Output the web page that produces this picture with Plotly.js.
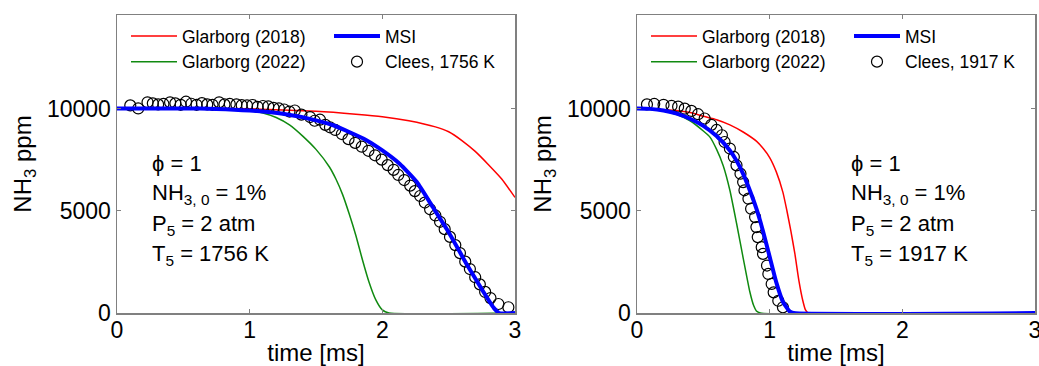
<!DOCTYPE html>
<html>
<head>
<meta charset="utf-8">
<script src="https://cdn.plot.ly/plotly-3.0.1.min.js"></script>
<style>
  html, body { margin: 0; padding: 0; background: #fff; }
  #chart { width: 1039px; height: 366px; }
</style>
</head>
<body>
<div id="chart"></div>
<script>
// ---- NH3 decay at T5 = 1756 K ----
const g18_1756_t = [0, 0.5, 1.0, 1.5, 1.8, 2.0, 2.2, 2.4, 2.5, 2.6, 2.7, 2.8, 2.9, 3.0];
const g18_1756_v = [10000, 9998, 9985, 9860, 9720, 9600, 9400, 9100, 8860, 8430, 7900, 7250, 6550, 5650];

const g22_1756_t = [0, 0.5, 0.9, 1.0, 1.1, 1.2, 1.3, 1.4, 1.5, 1.6, 1.65, 1.7, 1.75, 1.8, 1.85, 1.9, 1.95, 2.0, 2.05, 3.0];
const g22_1756_v = [10000, 9995, 9950, 9900, 9780, 9560, 9200, 8650, 8000, 7150, 6550, 5800, 4850, 3800, 2600, 1500, 650, 150, 0, 0];

const msi_1756_t = [0, 0.5, 0.75, 1.0, 1.25, 1.5, 1.63, 1.75, 1.88, 2.0, 2.13, 2.26, 2.38, 2.5, 2.63, 2.76, 2.84, 2.88, 3.0];
const msi_1756_v = [10000, 10000, 9980, 9900, 9740, 9420, 9180, 8850, 8450, 7950, 7300, 6400, 5180, 3950, 2450, 1050, 250, 0, 0];

const clees_1756_t = [0.10, 0.16, 0.23, 0.27, 0.31, 0.35, 0.40, 0.44, 0.48, 0.52, 0.56, 0.60, 0.64, 0.68, 0.72,
  0.77, 0.81, 0.85, 0.90, 0.94, 0.98, 1.02, 1.06, 1.10, 1.14, 1.18, 1.22, 1.26, 1.30, 1.34,
  1.39, 1.455, 1.49, 1.53, 1.57, 1.605, 1.645, 1.695, 1.745, 1.795, 1.845, 1.895, 1.945, 1.995,
  2.04, 2.085, 2.12, 2.165, 2.21, 2.245, 2.285, 2.32, 2.36, 2.40, 2.435, 2.47, 2.51, 2.55, 2.585,
  2.625, 2.66, 2.70, 2.735, 2.775, 2.815, 2.875, 2.95];
const clees_1756_v = [10150, 10000, 10300, 10250, 10200, 10220, 10300, 10250, 10180, 10330, 10230, 10180, 10260, 10200, 10180,
  10300, 10200, 10220, 10200, 10160, 10150, 10170, 10080, 10120, 10100, 10030, 10000, 9950, 9850, 9900,
  9700, 9580, 9400, 9450, 9200, 9080, 8950, 8750, 8500, 8320, 8130, 7930, 7710, 7500,
  7230, 7000, 6750, 6500, 6230, 5960, 5720, 5400, 5070, 4770, 4460, 4100, 3720, 3320, 2930,
  2510, 2150, 1750, 1400, 1030, 730, 440, 280];

// ---- NH3 decay at T5 = 1917 K ----
const g18_1917_t = [0, 0.3, 0.4, 0.5, 0.6, 0.7, 0.8, 0.9, 0.95, 1.0, 1.05, 1.1, 1.13, 1.16, 1.19, 1.22, 1.25, 1.27, 1.29, 3.0];
const g18_1917_v = [10000, 9900, 9800, 9620, 9450, 9200, 8850, 8400, 8050, 7600, 6900, 5900, 5000, 4000, 2900, 1600, 600, 150, 0, 0];

const g22_1917_t = [0, 0.2, 0.3, 0.4, 0.5, 0.55, 0.6, 0.65, 0.7, 0.75, 0.8, 0.85, 0.88, 0.9, 0.93, 3.0];
const g22_1917_v = [10000, 9880, 9700, 9400, 8900, 8600, 8000, 7200, 6000, 4400, 2700, 1050, 350, 100, 0, 0];

const msi_1917_t = [0, 0.1, 0.2, 0.3, 0.4, 0.5, 0.6, 0.7, 0.75, 0.8, 0.85, 0.9, 0.95, 1.0, 1.05, 1.1, 1.15, 1.18, 3.0];
const msi_1917_v = [10000, 9980, 9900, 9750, 9500, 9150, 8650, 7950, 7450, 6800, 6000, 5100, 4000, 2750, 1500, 550, 80, 0, 0];

const clees_1917_t = [0.075, 0.13, 0.20, 0.26, 0.31, 0.36, 0.41, 0.46, 0.51, 0.56, 0.60, 0.64, 0.66, 0.70, 0.73,
  0.75, 0.78, 0.80, 0.81, 0.84, 0.86, 0.89, 0.90, 0.91, 0.94, 0.95, 0.98, 0.99, 1.015, 1.03, 1.065, 1.10];
const clees_1917_v = [10200, 10220, 10180, 10130, 10090, 9990, 9880, 9720, 9510, 9200, 8950, 8690, 8360, 8040, 7630,
  7220, 6810, 6400, 6000, 5590, 5100, 4690, 4200, 3710, 3220, 2890, 2320, 1910, 1420, 1010, 600, 280];

// tick values and labels
const xTicks = [0, 1, 2, 3];
const yTicks = [0, 5000, 10000];

const FONT = 'Arial, "Liberation Sans", sans-serif';
const RED = '#ff0000', GREEN = '#108a10', BLUE = '#0000ff';

function panel(suffix, legA, legB, tempLabel, g18t, g18v, g22t, g22v, msit, msiv, ct, cv) {
  const xa = 'x' + suffix, ya = 'y' + suffix;
  return [
    { x: g18t, y: g18v, xaxis: xa, yaxis: ya, mode: 'lines', name: 'Glarborg (2018)',
      line: { color: RED, width: 1.5, shape: 'spline', smoothing: 0.5 }, legend: legA, legendrank: 1 },
    { x: g22t, y: g22v, xaxis: xa, yaxis: ya, mode: 'lines', name: 'Glarborg (2022)',
      line: { color: GREEN, width: 1.5, shape: 'spline', smoothing: 0.5 }, legend: legA, legendrank: 2 },
    { x: ct, y: cv, xaxis: xa, yaxis: ya, mode: 'markers', name: 'Clees, ' + tempLabel,
      marker: { symbol: 'circle-open', size: 11, color: '#000', line: { width: 1.2, color: '#000' } },
      legend: legB, legendrank: 2 },
    { x: msit, y: msiv, xaxis: xa, yaxis: ya, mode: 'lines', name: 'MSI',
      line: { color: BLUE, width: 4, shape: 'spline', smoothing: 0.5 }, legend: legB, legendrank: 1 }
  ];
}

const data = [].concat(
  panel('', 'legend', 'legend2', '1756 K', g18_1756_t, g18_1756_v, g22_1756_t, g22_1756_v,
        msi_1756_t, msi_1756_v, clees_1756_t, clees_1756_v),
  panel('2', 'legend3', 'legend4', '1917 K', g18_1917_t, g18_1917_v, g22_1917_t, g22_1917_v,
        msi_1917_t, msi_1917_v, clees_1917_t, clees_1917_v)
);

const W = 1039, H = 366;
const leftDom = [117 / W, 515 / W];
const rightDom = [637 / W, 1035 / W];
const yDom = [1 - 313 / H, 1 - 15 / H];

function xAxis(dom, anchor) {
  return {
    domain: dom, anchor: anchor, range: [0, 3], tickvals: xTicks, ticktext: xTicks.map(String),
    showline: true, linecolor: '#808080', linewidth: 1.5, mirror: 'ticks',
    ticks: 'inside', ticklen: 4, tickwidth: 1, tickcolor: '#808080', ticklabeloverflow: 'allow',
    ticklabelstandoff: -4,
    showgrid: false, zeroline: false, tickfont: { family: FONT, size: 23, color: '#000' },
    title: { text: 'time [ms]', font: { family: FONT, size: 24, color: '#000' }, standoff: 9 }
  };
}
function yAxis(anchor) {
  return {
    domain: yDom, anchor: anchor, range: [0, 14570], tickvals: yTicks, ticktext: yTicks.map(String),
    showline: true, linecolor: '#808080', linewidth: 1.5, mirror: 'ticks',
    ticks: 'inside', ticklen: 4, tickwidth: 1, tickcolor: '#808080',
    showgrid: false, zeroline: false, tickfont: { family: FONT, size: 23, color: '#000' },
    title: { text: 'NH<sub>3</sub> ppm', font: { family: FONT, size: 24, color: '#000' }, standoff: 8 }
  };
}

function legendAt(px, py) {
  return {
    x: px / W, y: 1 - py / H, xanchor: 'left', yanchor: 'top', orientation: 'v',
    bgcolor: 'rgba(0,0,0,0)', borderwidth: 0, itemwidth: 46, tracegroupgap: 0,
    font: { family: FONT, size: 17.5, color: '#000' }
  };
}

function infoLines(xref, yref, x0, temp) {
  const lines = ['ϕ = 1', 'NH<sub>3, 0</sub> = 1%', 'P<sub>5</sub> = 2 atm', 'T<sub>5</sub> = ' + temp];
  const ys = [7300, 5830, 4300, 2830];
  return lines.map((t, i) => ({
    xref: xref, yref: yref, x: x0, y: ys[i], xanchor: 'left', yanchor: 'middle',
    text: t, showarrow: false, font: { family: FONT, size: 22, color: '#000' }
  }));
}

const layout = {
  width: W, height: H,
  margin: { l: 0, r: 0, t: 0, b: 0 },
  paper_bgcolor: '#fff', plot_bgcolor: '#fff',
  font: { family: FONT, color: '#000' },
  showlegend: true,
  xaxis: xAxis(leftDom, 'y'),
  yaxis: yAxis('x'),
  xaxis2: xAxis(rightDom, 'y2'),
  yaxis2: yAxis('x2'),
  legend: legendAt(126, 18),
  legend2: legendAt(329, 18),
  legend3: legendAt(646, 18),
  legend4: legendAt(849, 18),
  annotations: [].concat(infoLines('x', 'y', 0.25, '1756 K'), infoLines('x2', 'y2', 1.6, '1917 K'))
};

Plotly.newPlot('chart', data, layout, { displayModeBar: false, staticPlot: true });
</script>
</body>
</html>
